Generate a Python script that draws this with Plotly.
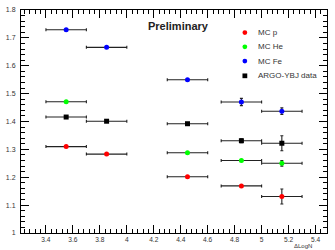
import plotly.graph_objects as go

# ---- data ----
x_centers = [3.55, 3.85, 4.45, 4.85, 5.15]
x_half = [0.15, 0.15, 0.15, 0.15, 0.15]

p_x = [3.55, 3.85, 4.45, 4.85, 5.15]
p_y = [1.310, 1.283, 1.202, 1.169, 1.131]
p_err = [0.0, 0.0, 0.0, 0.0, 0.027]

he_x = [3.55, 4.45, 4.85, 5.15]
he_y = [1.471, 1.288, 1.260, 1.250]
he_err = [0.0, 0.0, 0.0, 0.010]

fe_x = [3.55, 3.85, 4.45, 4.85, 5.15]
fe_y = [1.729, 1.666, 1.550, 1.470, 1.437]
fe_err = [0.0, 0.0, 0.0, 0.013, 0.012]

data_x = [3.55, 3.85, 4.45, 4.85, 5.15]
data_y = [1.416, 1.401, 1.392, 1.331, 1.322]
data_err = [0.003, 0.003, 0.003, 0.007, 0.027]

legend_names = ["MC p", "MC He", "MC Fe", "ARGO-YBJ data"]
legend_colors = ["#ff0000", "#00ff00", "#0000ff", "#000000"]
legend_symbols = ["circle", "circle", "circle", "square"]

y_ticks = [1.0, 1.1, 1.2, 1.3, 1.4, 1.5, 1.6, 1.7, 1.8]
y_tick_labels = ["1", "1.1", "1.2", "1.3", "1.4", "1.5", "1.6", "1.7", "1.8"]
x_ticks = [3.4, 3.6, 3.8, 4.0, 4.2, 4.4, 4.6, 4.8, 5.0, 5.2, 5.4]
x_tick_labels = ["3.4", "3.6", "3.8", "4", "4.2", "4.4", "4.6", "4.8", "5", "5.2", "5.4"]

FONT = "Liberation Sans, Arial, sans-serif"

fig = go.Figure()

def add_series(xs, ys, errs, color, symbol, size):
    fig.add_trace(go.Scatter(
        x=xs, y=ys, mode="markers",
        marker=dict(color=color, symbol=symbol, size=size, line=dict(width=0)),
        error_x=dict(type="constant", value=0.15, color="#222222", thickness=1.1, width=1.5),
        error_y=dict(type="data", array=errs, color="#222222", thickness=1.1, width=1.5),
        showlegend=False, cliponaxis=False,
    ))

add_series(p_x, p_y, p_err, legend_colors[0], "circle", 5)
add_series(he_x, he_y, he_err, legend_colors[1], "circle", 5)
add_series(fe_x, fe_y, fe_err, legend_colors[2], "circle", 5)
add_series(data_x, data_y, data_err, legend_colors[3], "square", 5)

# legend drawn manually (ROOT style, compact)
L, R, T, B = 20.7, 327.3, 6.0, 233.0
W, H = R - L, B - T
def px2paper(px, py):
    return (px - L) / W, (B - py) / H

legend_rows = [29, 43.5, 58, 73]
for name, color, sym, py in zip(legend_names, legend_colors, legend_symbols, legend_rows):
    cx, cy = px2paper(245, py)
    rx, ry = 2.4 / W, 2.4 / H
    fig.add_shape(type="circle" if sym == "circle" else "rect", xref="paper", yref="paper",
                  x0=cx - rx, x1=cx + rx, y0=cy - ry, y1=cy + ry,
                  fillcolor=color, line=dict(width=0))
    tx, ty = px2paper(256, py)
    fig.add_annotation(x=tx, y=ty, xref="paper", yref="paper", text=name,
                       showarrow=False, xanchor="left", yanchor="middle",
                       font=dict(family=FONT, size=8, color="#333333"))

px_, py_ = px2paper(179, 22.5)
fig.add_annotation(x=px_, y=py_, xref="paper", yref="paper", text="<b>Preliminary</b>",
                   showarrow=False, xanchor="center", yanchor="middle",
                   font=dict(family=FONT, size=11, color="#222222"))

tx, ty = px2paper(313, 250)
fig.add_annotation(x=tx, y=ty, xref="paper", yref="paper", text="ΔLogN",
                   showarrow=False, xanchor="right", yanchor="bottom", borderpad=0,
                   font=dict(family=FONT, size=6, color="#333333"))

axis_common = dict(
    showgrid=False, zeroline=False, ticks="inside", ticklen=8, tickwidth=1,
    tickcolor="black", showline=True, linecolor="black", linewidth=1, mirror="allticks",
)

fig.update_xaxes(range=[3.215, 5.485], tickmode="array", tickvals=x_ticks, ticktext=x_tick_labels,
                 minor=dict(ticks="inside", ticklen=4, dtick=0.04, tick0=3.4, tickcolor="black", tickwidth=1),
                 ticklabelstandoff=0, tickfont=dict(family=FONT, size=6.6, color="#333333"),
                 **axis_common)
fig.update_yaxes(range=[1.0, 1.8], tickmode="array", tickvals=y_ticks, ticktext=y_tick_labels,
                 minor=dict(ticks="inside", ticklen=4, dtick=0.02, tick0=1.0, tickcolor="black", tickwidth=1),
                 ticklabelstandoff=3, tickfont=dict(family=FONT, size=7, color="#333333"),
                 **axis_common)

fig.update_layout(
    width=335, height=250,
    margin=dict(l=21, r=8, t=6, b=17, pad=0),
    paper_bgcolor="white", plot_bgcolor="white",
    showlegend=False,
)

fig.write_html("out.html")
